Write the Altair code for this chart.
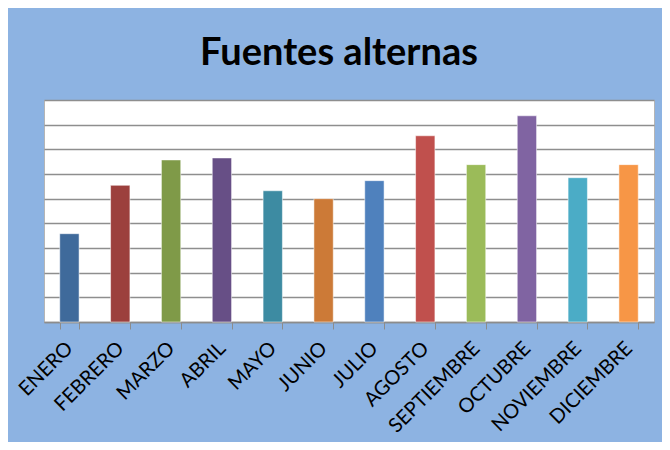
import altair as alt
import pandas as pd

months = ["ENERO", "FEBRERO", "MARZO", "ABRIL", "MAYO", "JUNIO", "JULIO",
          "AGOSTO", "SEPTIEMBRE", "OCTUBRE", "NOVIEMBRE", "DICIEMBRE"]
values = [3.58, 5.54, 6.57, 6.65, 5.32, 5.0, 5.73, 7.55, 6.38, 8.36, 5.85, 6.38]
colors = ["#3F6A9B", "#9C403D", "#7F9A48", "#674F86", "#3D8BA2", "#CC7A37",
          "#4F81BD", "#C0504D", "#9BBB59", "#8064A2", "#4BACC6", "#F79646"]
grid_values = list(range(0, 10))

df = pd.DataFrame({"mes": months, "valor": values})

chart = alt.Chart(df).mark_bar(stroke="#ffffff", strokeOpacity=0.5, strokeWidth=1).encode(
    x=alt.X("mes:N", sort=months,
            scale=alt.Scale(paddingInner=0.62, paddingOuter=0.31),
            axis=alt.Axis(title=None, labelAngle=-45, labelAlign="right",
                          labelBaseline="middle", labelPadding=16,
                          labelFont="Lato", labelFontSize=20, labelColor="#000000",
                          tickBand="extent", tickSize=7, tickColor="#8c8c8c",
                          domainColor="#8c8c8c", domainWidth=1.5, grid=False)),
    y=alt.Y("valor:Q", scale=alt.Scale(domain=[0, 9], nice=False),
            axis=alt.Axis(title=None, labels=False, ticks=False, domain=False,
                          grid=True, values=grid_values, gridColor="#8e8e8e",
                          gridWidth=1.5)),
    color=alt.Color("mes:N", sort=months,
                    scale=alt.Scale(domain=months, range=colors), legend=None),
).properties(
    width=610, height=222,
    title=alt.TitleParams("Fuentes alternas", font="Lato", fontSize=38,
                          fontWeight="bold", color="#000000", anchor="middle",
                          baseline="alphabetic", offset=36, dx=-10, dy=39),
    autosize=alt.AutoSizeParams(type="none"),
    padding={"left": 36, "top": 92, "right": 8, "bottom": 120},
).configure(background="#8DB3E2").configure_view(fill="#ffffff", stroke="#b5b5b5")

chart.save("out.html", embed_options={"renderer": "svg", "actions": False})
